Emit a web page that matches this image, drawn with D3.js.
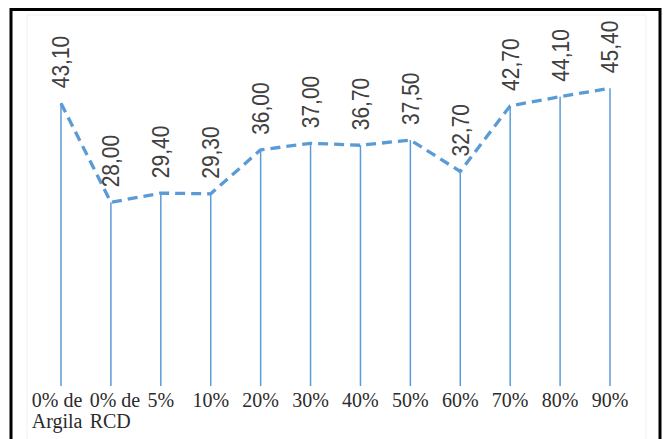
<!DOCTYPE html>
<html>
<head>
<meta charset="utf-8">
<script src="https://cdn.jsdelivr.net/npm/d3@7"></script>
<style>
  html, body { margin: 0; padding: 0; background: #fff; }
  svg { display: block; }
</style>
</head>
<body>
<svg id="chart" width="665" height="439"></svg>
<script>
const categories = ["0% de\nArgila", "0% de\nRCD", "5%", "10%", "20%", "30%", "40%", "50%", "60%", "70%", "80%", "90%"];
const values = [43.10, 28.00, 29.40, 29.30, 36.00, 37.00, 36.70, 37.50, 32.70, 42.70, 44.10, 45.40];
const valueLabels = ["43,10", "28,00", "29,40", "29,30", "36,00", "37,00", "36,70", "37,50", "32,70", "42,70", "44,10", "45,40"];

const W = 665, H = 439;
const svg = d3.select("#chart");

// outer frame
svg.append("rect").attr("x", 0).attr("y", 0).attr("width", W).attr("height", H).attr("fill", "#fff");
svg.append("rect")
  .attr("x", 27).attr("y", 15).attr("width", 619).attr("height", 430)
  .attr("fill", "none").attr("stroke", "#f1f1f1").attr("stroke-width", 1);
svg.append("rect")
  .attr("x", 11).attr("y", 9.5).attr("width", 649).attr("height", 440)
  .attr("fill", "none").attr("stroke", "#000").attr("stroke-width", 3);

const x = d3.scalePoint().domain(categories).range([61, 610]).padding(0);
const y = d3.scaleLinear().domain([0, 50]).range([386, 58]);

const data = categories.map((c, i) => ({ c, i, v: values[i], lab: valueLabels[i] }));

// drop lines
svg.append("g").selectAll("line").data(data).join("line")
  .attr("x1", d => x(d.c)).attr("x2", d => x(d.c))
  .attr("y1", y(0)).attr("y2", d => y(d.v))
  .attr("stroke", "#5b9bd5").attr("stroke-width", 1.5);

// dashed line
const line = d3.line().x(d => x(d.c)).y(d => y(d.v));
svg.append("path").datum(data)
  .attr("d", line)
  .attr("fill", "none")
  .attr("stroke", "#5b9bd5")
  .attr("stroke-width", 3.3)
  .attr("stroke-dasharray", "10,6")
  .attr("stroke-linejoin", "round");

// value labels (rotated)
svg.append("g").selectAll("text").data(data).join("text")
  .attr("transform", d => `translate(${x(d.c)},${y(d.v) - 15}) rotate(-90) scale(1,1.15)`)
  .attr("dy", "0.35em")
  .attr("text-anchor", "start")
  .attr("font-family", "'Liberation Sans', Arial, sans-serif")
  .attr("font-size", 21)
  .attr("fill", "#404040")
  .text(d => d.lab);

// category labels
const cg = svg.append("g");
data.forEach(d => {
  const lines = d.c.split("\n");
  const t = cg.append("text")
    .attr("font-family", "'Liberation Serif', 'Times New Roman', serif")
    .attr("font-size", 20)
    .attr("fill", "#2b2b2b")
    .attr("y", 407);
  const first = t.append("tspan").attr("x", 0).text(lines[0]);
  const w = first.node().getComputedTextLength();
  // two-line labels are nudged apart so neighbouring labels do not collide
  const shift = lines.length > 1 ? (d.i === 0 ? -4 : 4) : 0;
  const x0 = x(d.c) - w / 2 + shift;
  first.attr("x", x0);
  lines.slice(1).forEach(l => {
    t.append("tspan").attr("x", x0).attr("dy", 21).text(l);
  });
});
</script>
</body>
</html>
